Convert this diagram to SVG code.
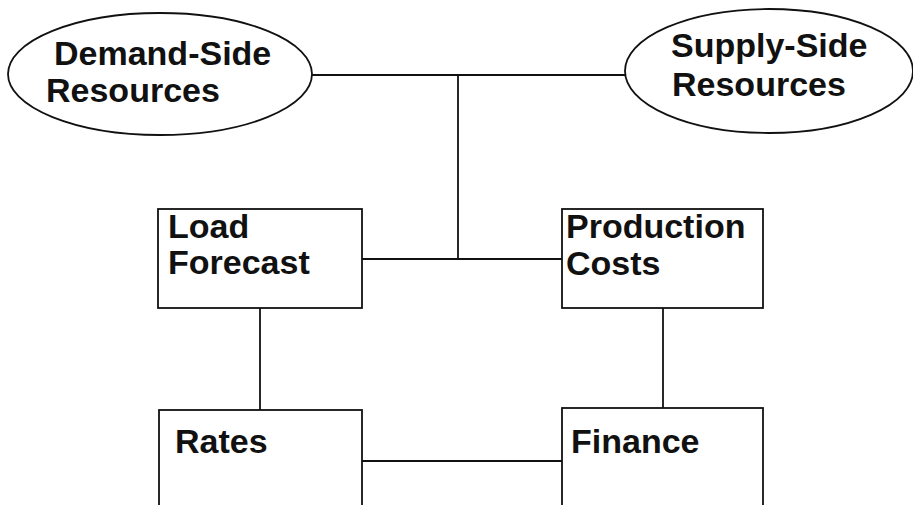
<svg xmlns="http://www.w3.org/2000/svg" width="913" height="505" viewBox="0 0 913 505">
<style>
.n{fill:#fff;stroke:#111;stroke-width:1.8}
.c{fill:none;stroke:#111;stroke-width:1.8}
text{font-family:"Liberation Sans",Arial,sans-serif;font-weight:bold;font-size:34px;fill:#111}
</style>
<rect width="913" height="505" fill="#fff"/>
<g id="connectors">
<path class="c" d="M312 75H625"/>
<path class="c" d="M458 75V259"/>
<path class="c" d="M362 259H562"/>
<path class="c" d="M260 308V410"/>
<path class="c" d="M663 308V408"/>
<path class="c" d="M362 461H562"/>
</g>
<g id="demand">
<ellipse class="n" cx="160" cy="74" rx="152" ry="61"/>
<text x="54" y="65">Demand-Side</text>
<text x="46" y="102">Resources</text>
</g>
<g id="supply">
<ellipse class="n" cx="769" cy="71" rx="144" ry="62"/>
<text x="671" y="57">Supply-Side</text>
<text x="672" y="96">Resources</text>
</g>
<g id="load">
<rect class="n" x="158" y="209" width="204" height="99"/>
<text x="168" y="238">Load</text>
<text x="168" y="274">Forecast</text>
</g>
<g id="production">
<rect class="n" x="562" y="209" width="201" height="99"/>
<text x="566" y="238">Production</text>
<text x="566" y="275">Costs</text>
</g>
<g id="rates">
<rect class="n" x="159" y="410" width="203" height="110"/>
<text x="175" y="453">Rates</text>
</g>
<g id="finance">
<rect class="n" x="562" y="408" width="201" height="110"/>
<text x="571" y="453">Finance</text>
</g>
</svg>
